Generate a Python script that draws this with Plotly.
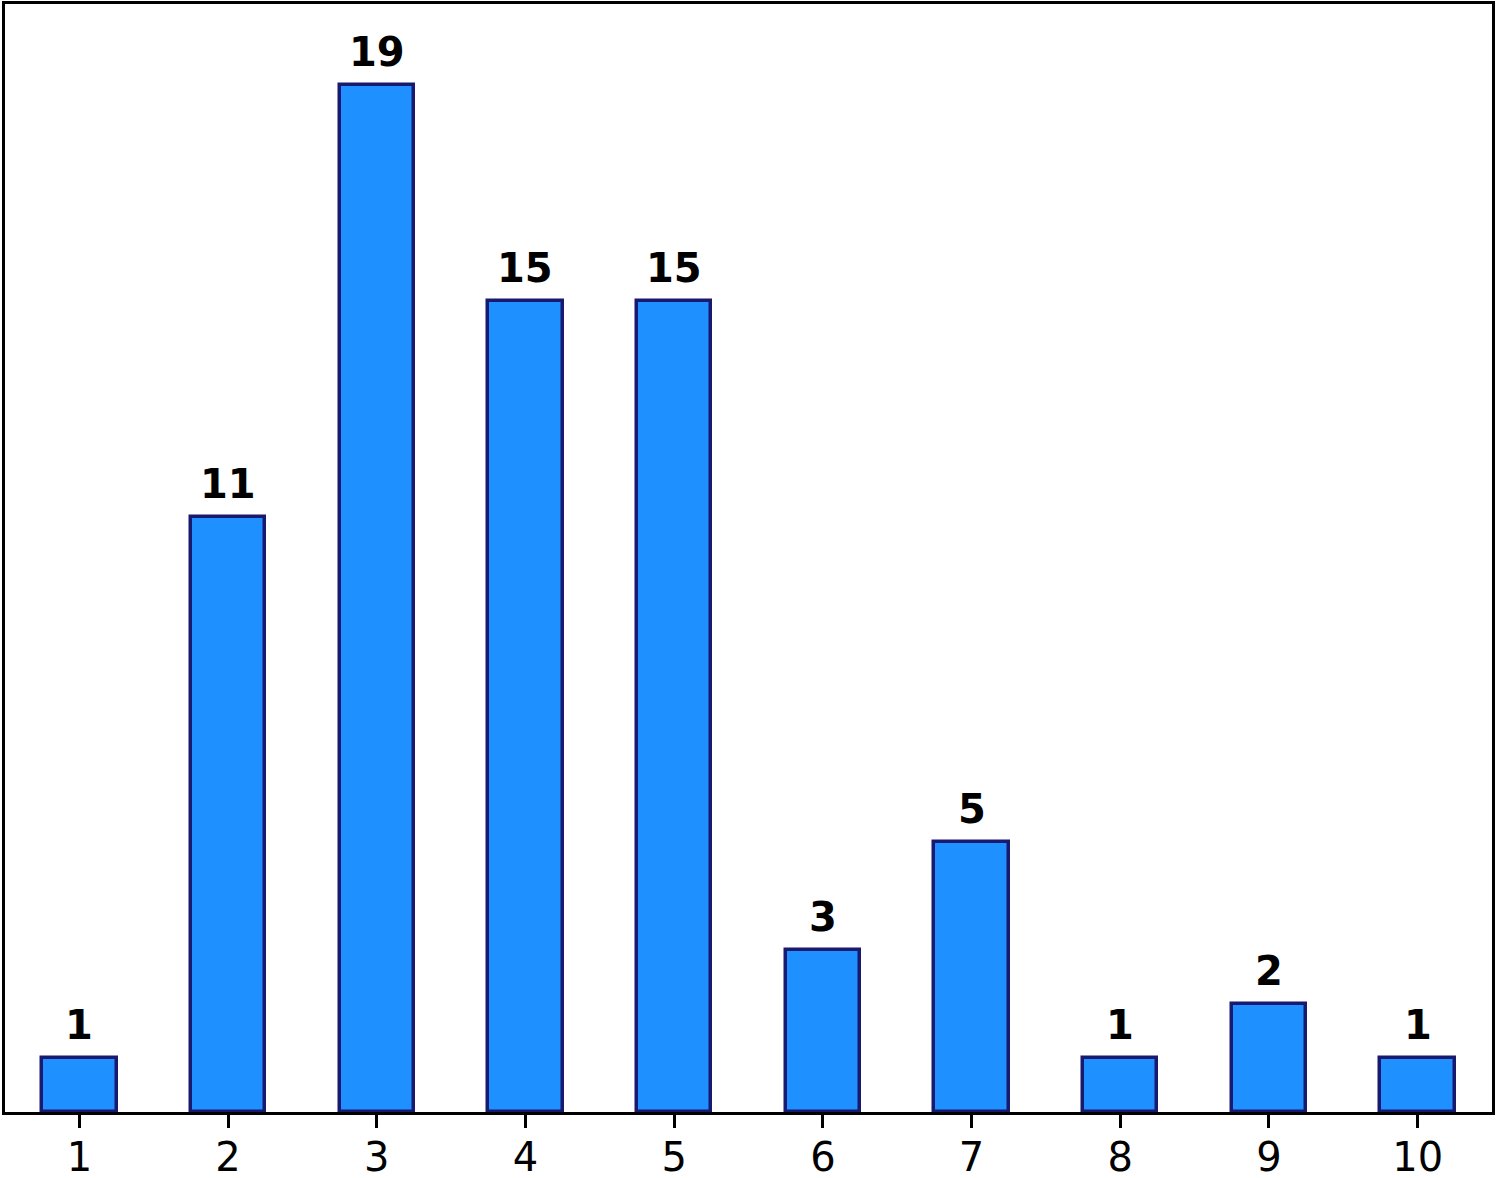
import plotly.graph_objects as go

categories = [1, 2, 3, 4, 5, 6, 7, 8, 9, 10]
counts = [1, 11, 19, 15, 15, 3, 5, 1, 2, 1]

fig = go.Figure()

fig.add_trace(go.Bar(
    x=categories,
    y=counts,
    width=0.5,
    marker=dict(color='#1E90FF', line=dict(color='#191970', width=3.5)),
    showlegend=False,
    hoverinfo='skip'
))

# value labels above each bar
for c, v in zip(categories, counts):
    fig.add_annotation(
        x=c, y=v,
        text=f"<b>{v}</b>",
        showarrow=False,
        yanchor='bottom',
        yshift=8,
        font=dict(family='DejaVu Sans', size=40, color='black')
    )

fig.update_layout(
    width=1497, height=1178,
    margin=dict(l=5, r=5, t=4, b=66),
    plot_bgcolor='white',
    paper_bgcolor='white',
    font=dict(family='DejaVu Sans', size=40, color='black'),
    bargap=0,
)

fig.update_xaxes(
    range=[0.5, 10.5], automargin=False,
    tickmode='array', tickvals=categories, ticktext=[str(c) for c in categories],
    ticks='outside', ticklen=13, tickwidth=3, tickcolor='black',
    ticklabelstandoff=-5,
    showline=True, linewidth=3, linecolor='black', mirror=True,
    showgrid=False, zeroline=False,
)
fig.update_yaxes(
    range=[0, 20.5], automargin=False,
    showticklabels=False, ticks='',
    showline=True, linewidth=3, linecolor='black', mirror=True,
    showgrid=False, zeroline=False,
)

# drop the default page margin so the figure sits at the window's corner
fig.write_html(
    "out.html",
    config={'displayModeBar': False},
    post_script="document.body.style.margin='0';document.body.style.overflow='hidden';",
)
